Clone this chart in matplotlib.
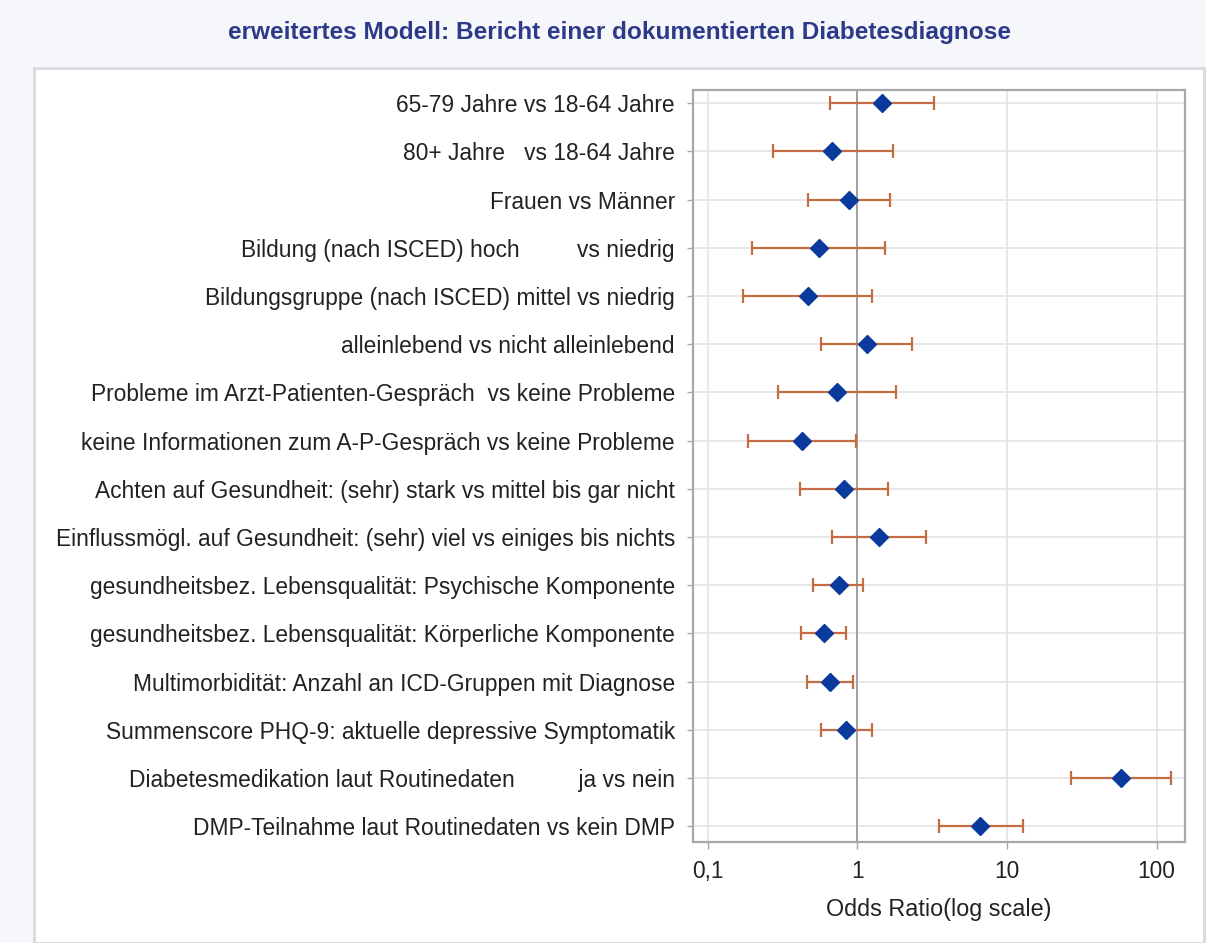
import matplotlib
matplotlib.use("Agg")
import matplotlib.pyplot as plt
from matplotlib.patches import Rectangle
from matplotlib.ticker import FixedLocator, NullLocator

plt.rcParams['font.family'] = ['Liberation Sans', 'DejaVu Sans']

title = "erweitertes Modell: Bericht einer dokumentierten Diabetesdiagnose"

labels = [
    "65-79 Jahre vs 18-64 Jahre",
    "80+ Jahre   vs 18-64 Jahre",
    "Frauen vs Männer",
    "Bildung (nach ISCED) hoch         vs niedrig",
    "Bildungsgruppe (nach ISCED) mittel vs niedrig",
    "alleinlebend vs nicht alleinlebend",
    "Probleme im Arzt-Patienten-Gespräch  vs keine Probleme",
    "keine Informationen zum A-P-Gespräch vs keine Probleme",
    "Achten auf Gesundheit: (sehr) stark vs mittel bis gar nicht",
    "Einflussmögl. auf Gesundheit: (sehr) viel vs einiges bis nichts",
    "gesundheitsbez. Lebensqualität: Psychische Komponente",
    "gesundheitsbez. Lebensqualität: Körperliche Komponente",
    "Multimorbidität: Anzahl an ICD-Gruppen mit Diagnose",
    "Summenscore PHQ-9: aktuelle depressive Symptomatik",
    "Diabetesmedikation laut Routinedaten          ja vs nein",
    "DMP-Teilnahme laut Routinedaten vs kein DMP",
]

odds_ratio = [1.46, 0.68, 0.88, 0.55, 0.465, 1.15, 0.73, 0.424,
              0.81, 1.40, 0.75, 0.595, 0.653, 0.84, 58.0, 6.65]
ci_lower = [0.66, 0.274, 0.47, 0.198, 0.171, 0.574, 0.293, 0.184,
            0.411, 0.68, 0.508, 0.42, 0.458, 0.568, 27.0, 3.50]
ci_upper = [3.25, 1.72, 1.65, 1.52, 1.26, 2.32, 1.82, 0.985,
            1.61, 2.86, 1.09, 0.844, 0.93, 1.25, 124.6, 12.7]

x_ticks = [0.1, 1, 10, 100]
x_tick_labels = ["0,1", "1", "10", "100"]

W, H = 1206, 943
fig = plt.figure(figsize=(W / 100, H / 100), dpi=100, facecolor='#f6f7fa')

# white panel behind the plot
fig.patches.append(Rectangle((34 / W, 0), (1204 - 34) / W, 1 - 68 / H,
                             transform=fig.transFigure, facecolor='white',
                             edgecolor='#d8d9dc', linewidth=2, zorder=0))

fig.text(620 / W, 1 - 32 / H, title, ha='center', va='center',
         fontsize=17.6, fontweight='bold', color='#2d3a8a')

ax = fig.add_axes([693 / W, 1 - 842 / H, (1185 - 693) / W, (842 - 90) / H])
ax.set_zorder(2)
ax.set_facecolor('white')

rows = list(range(len(labels)))
err_lo = [o - l for o, l in zip(odds_ratio, ci_lower)]
err_hi = [u - o for o, u in zip(odds_ratio, ci_upper)]

ax.errorbar(odds_ratio, rows, xerr=[err_lo, err_hi], fmt='none',
            ecolor='#c66c45', elinewidth=1.6, capsize=4.8, capthick=1.6,
            zorder=3)
ax.plot(odds_ratio, rows, linestyle='none', marker='D', markersize=9,
        color='#0a3a9c', markeredgecolor='#0a3a9c', zorder=4)

ax.axvline(1, color='#9a9a9a', linewidth=1.3, zorder=2)

ax.set_xscale('log')
ax.set_xlim(0.0795, 155)
ax.set_ylim(15.33, -0.276)

ax.xaxis.set_major_locator(FixedLocator(x_ticks))
ax.xaxis.set_minor_locator(NullLocator())
ax.set_xticklabels(x_tick_labels)
ax.set_yticks(rows)
ax.set_yticklabels(labels)

ax.grid(True, axis='both', color='#e4e4e4', linewidth=1.2, zorder=0)
ax.set_axisbelow(True)

for sp in ax.spines.values():
    sp.set_color('#a8a8a8')
    sp.set_linewidth(1.6)

ax.tick_params(axis='y', length=4, width=1, color='#a8a8a8', pad=9,
               labelsize=16.4, labelcolor='#222222')
ax.tick_params(axis='x', length=5, width=1, color='#a8a8a8', pad=8,
               labelsize=16.4, labelcolor='#222222')
ax.set_xlabel("Odds Ratio(log scale)", fontsize=16.8, color='#222222',
              labelpad=11)

fig.savefig("out.png", dpi=100, facecolor=fig.get_facecolor())
